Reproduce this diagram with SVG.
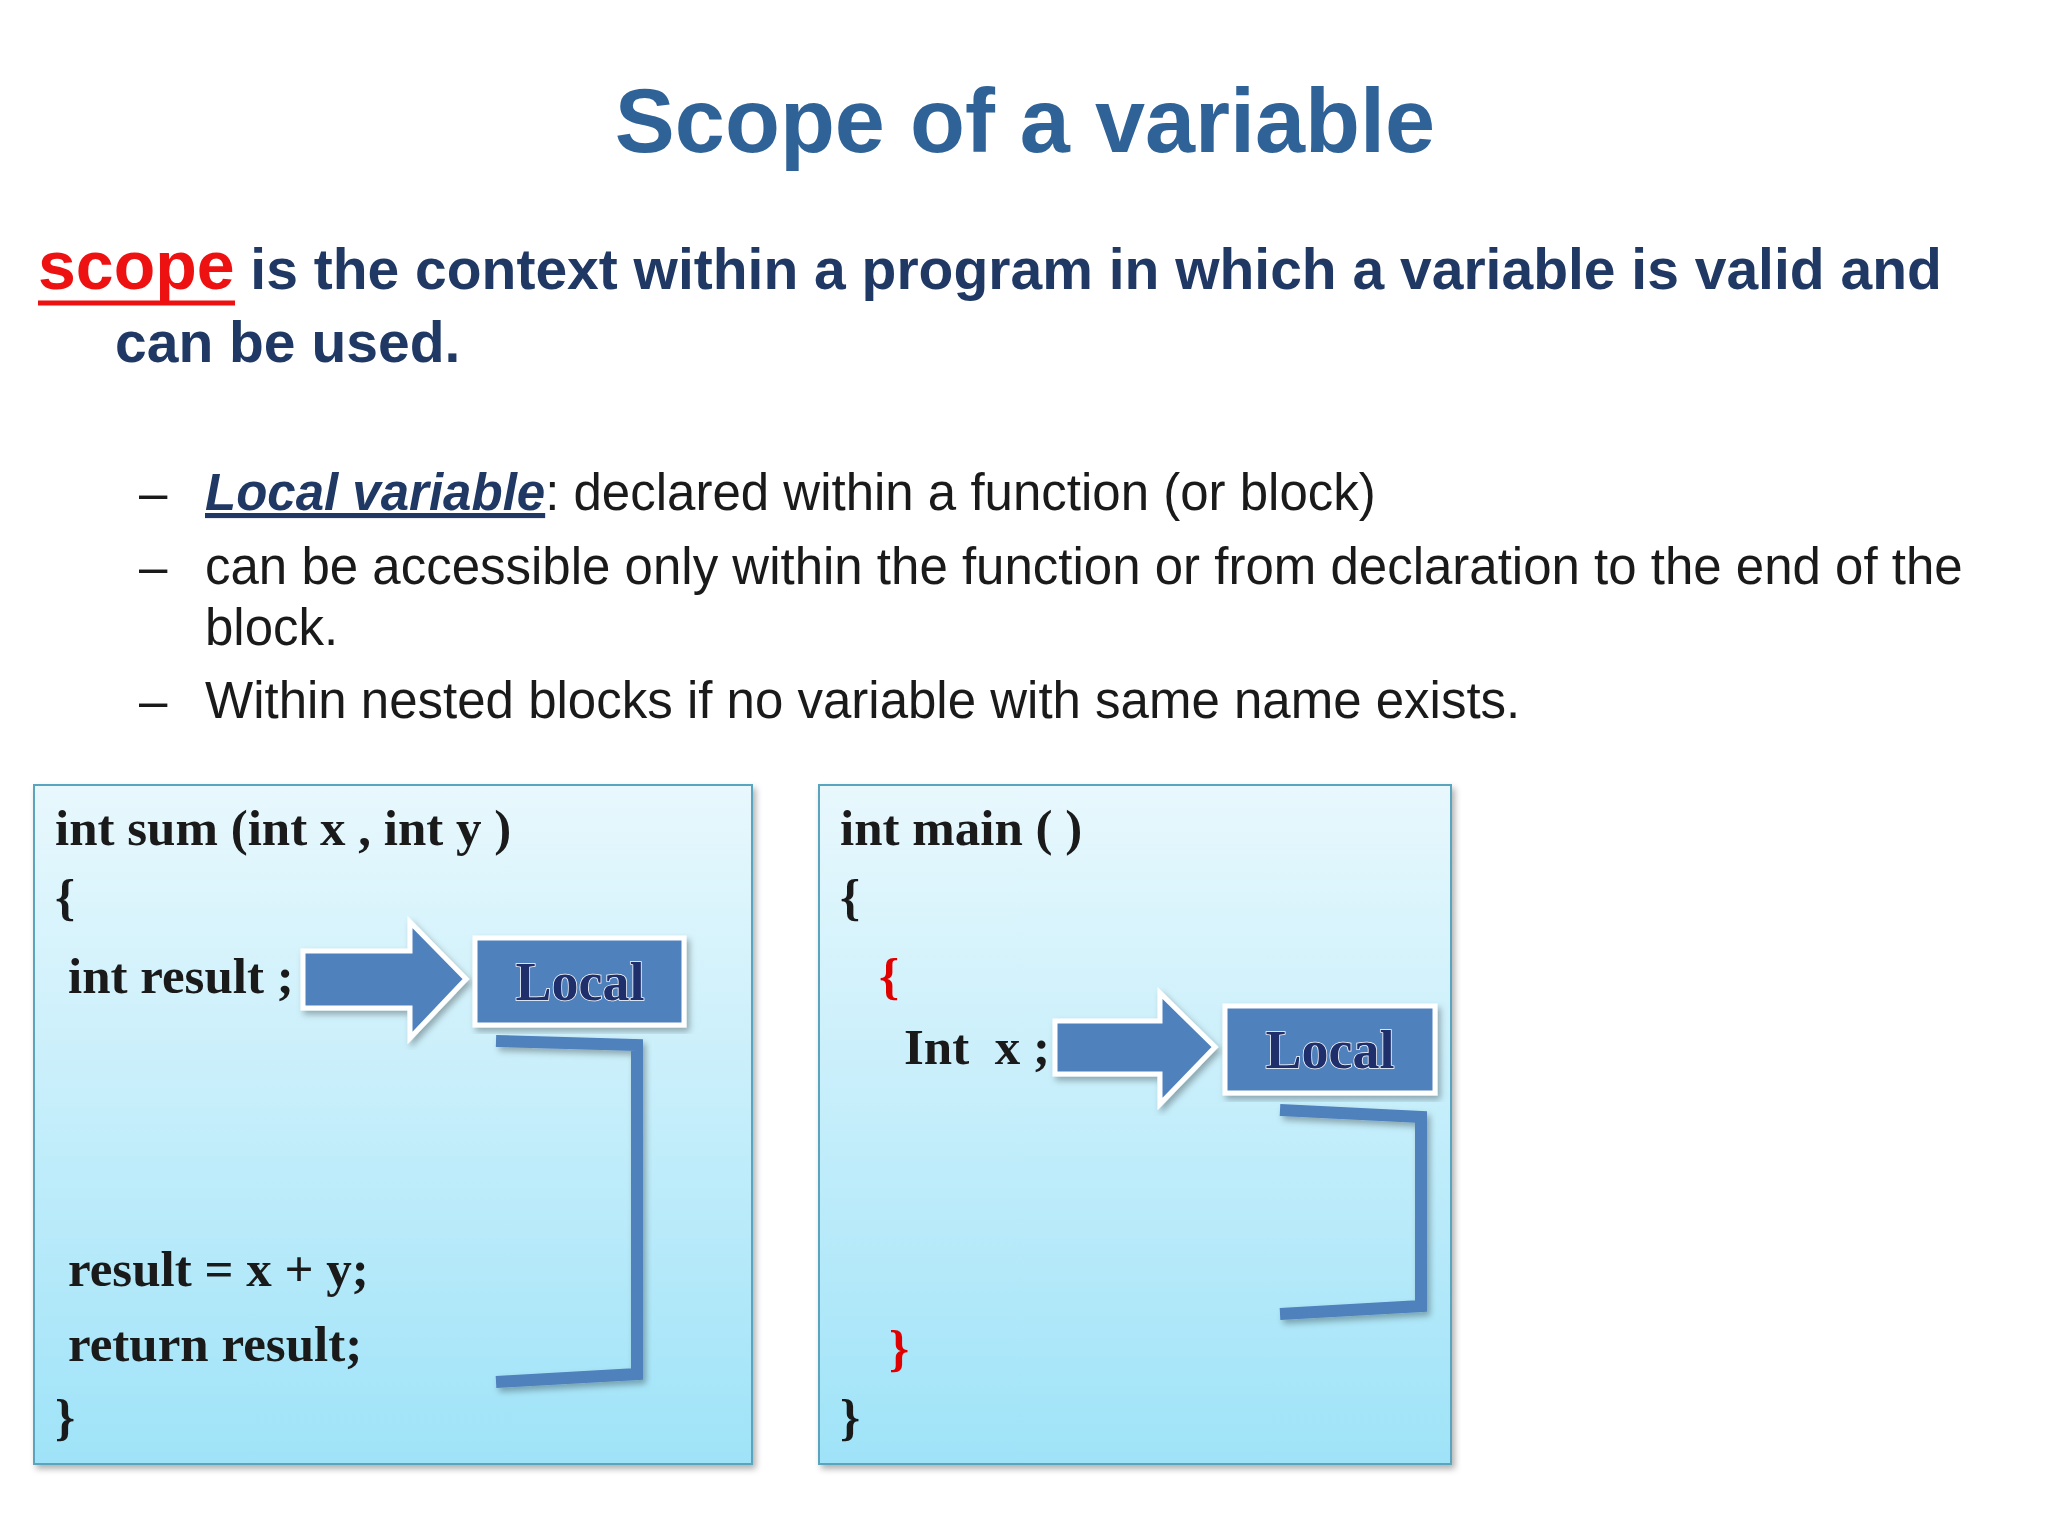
<svg xmlns="http://www.w3.org/2000/svg" width="2048" height="1536" viewBox="0 0 2048 1536">
<defs>
<linearGradient id="bg" x1="0" y1="0" x2="0" y2="1"><stop offset="0" stop-color="#e8f8fd"/><stop offset="1" stop-color="#9fe3f8"/></linearGradient>
<filter id="sh" x="-5%" y="-5%" width="115%" height="115%"><feDropShadow dx="3" dy="4" stdDeviation="3" flood-color="#000" flood-opacity="0.3"/></filter>
</defs>
<style>
.code{font-family:"Liberation Serif",serif;font-size:51px;font-weight:bold;fill:#1a1a1a;white-space:pre}
.red{fill:#e00000}
.bul{font-family:"Liberation Sans",Arial,sans-serif;font-size:51px;fill:#1a1a1a}
.box{fill:url(#bg);stroke:#5aa5bd;stroke-width:2;filter:url(#sh)}
.arr{fill:#4f81bd;stroke:#fff;stroke-width:5;filter:url(#sh)}
.lbox{fill:#4f81bd;stroke:#fff;stroke-width:5;filter:url(#sh)}
.ltxt{font-family:"Liberation Serif",serif;font-size:54px;font-weight:bold;fill:#1f2f6b;stroke:#fff;stroke-width:1.5;paint-order:stroke}
.brk{fill:none;stroke:#4f81bd;stroke-width:12;filter:url(#sh)}
</style>
<rect width="2048" height="1536" fill="#fff"/>
<text x="1025" y="152" text-anchor="middle" font-family="Liberation Sans,Arial,sans-serif" font-size="90" font-weight="bold" fill="#2f6398">Scope of a variable</text>
<g font-family="Liberation Sans,Arial,sans-serif" font-size="57" font-weight="bold" fill="#1f3864">
<text x="38" y="289"><tspan fill="#ee1111" font-size="68">scope</tspan> is the context within a program in which a variable is valid and</text>
<text x="115" y="362">can be used.</text>
</g>
<line x1="38" y1="303" x2="235" y2="303" stroke="#ee1111" stroke-width="5"/>
<g class="bul">
<text x="139" y="510">–</text>
<text x="205" y="510"><tspan font-weight="bold" font-style="italic" fill="#1f3864" text-decoration="underline">Local variable</tspan>: declared within a function (or block)</text>
<text x="139" y="584">–</text>
<text x="205" y="584">can be accessible only within the function or from declaration to the end of the</text>
<text x="205" y="645">block.</text>
<text x="139" y="718">–</text>
<text x="205" y="718">Within nested blocks if no variable with same name exists.</text>
</g>
<g id="leftbox">
<rect class="box" x="34" y="785" width="718" height="679"/>
<text class="code" x="55" y="845">int sum (int x , int y )</text>
<text class="code" x="55" y="914">{</text>
<text class="code" x="68" y="993">int result ;</text>
<text class="code" x="68" y="1286">result = x + y;</text>
<text class="code" x="68" y="1361">return result;</text>
<text class="code" x="55" y="1434">}</text>
</g>
<g id="rightbox">
<rect class="box" x="819" y="785" width="632" height="679"/>
<text class="code" x="840" y="845">int main ( )</text>
<text class="code" x="840" y="914">{</text>
<text class="code red" x="879" y="993">{</text>
<text class="code" x="904" y="1064" xml:space="preserve">Int  x ;</text>
<text class="code red" x="889" y="1365">}</text>
<text class="code" x="840" y="1434">}</text>
</g>
<g id="connectors">
<polygon class="arr" points="303,951 410,951 410,922 466,979 410,1038 410,1008 303,1008"/>
<polygon class="arr" points="1055,1021 1160,1021 1160,993 1215,1047 1160,1104 1160,1074 1055,1074"/>
<path class="brk" d="M496,1041 L637,1045 L637,1374 L496,1382"/>
<path class="brk" d="M1280,1110 L1421,1117 L1421,1306 L1280,1314"/>
</g>
<g id="local1">
<rect class="lbox" x="475" y="938" width="209" height="87"/>
<text class="ltxt" x="580" y="1000" text-anchor="middle">Local</text>
</g>
<g id="local2">
<rect class="lbox" x="1225" y="1006" width="210" height="87"/>
<text class="ltxt" x="1330" y="1068" text-anchor="middle">Local</text>
</g>
</svg>
